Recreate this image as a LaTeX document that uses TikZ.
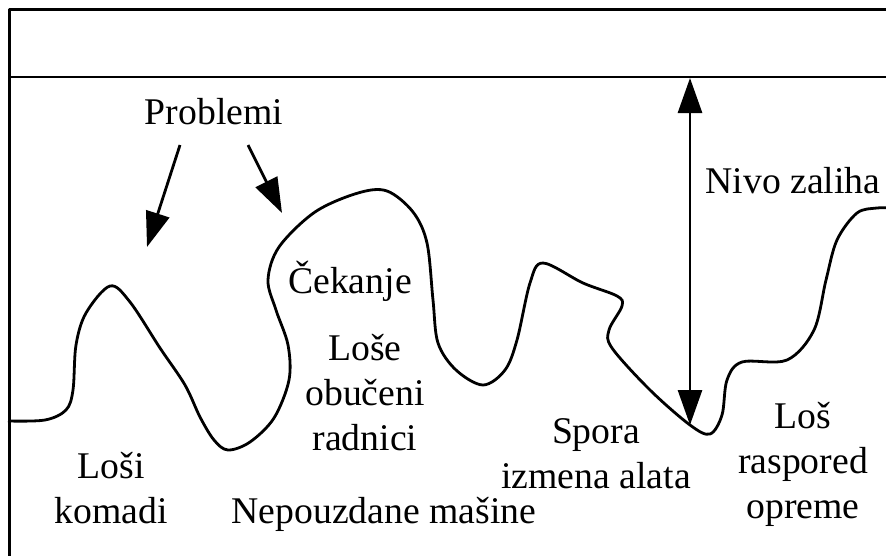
\documentclass[tikz,border=0pt]{standalone}
\usepackage{fontspec}
\setmainfont{Liberation Serif}
\usetikzlibrary{arrows.meta}
\tikzset{
  lbl/.style={font=\fontsize{37.7}{45}\selectfont, align=center, anchor=base, inner sep=0pt},
  thick line/.style={line width=2.8pt, line join=round},
  big arrow/.style={line width=2.8pt, -{Triangle[length=35pt,width=24pt]}},
  both arrow/.style={line width=2.8pt, {Triangle[length=35pt,width=24pt]}-{Triangle[length=35pt,width=24pt]}}
}
\begin{document}
\begin{tikzpicture}[x=1pt,y=-1pt]
\useasboundingbox (0,0) rectangle (886,555);
\begin{scope}
\clip (0,0) rectangle (886,555);
% frame
\draw[thick line] (9.5,9.5) rectangle (900,580);
\draw[thick line] (9.5,77) -- (900,77);
% stock level wave
\draw[thick line] plot[smooth, tension=0.55] coordinates {
 (8,421) (45,420) (66,410) (73,390) (76,345) (86,313) (110,286) (130,302)
 (160,348) (185,385) (200,417) (214,440) (228,450) (250,442) (274,418)
 (289,380) (288,345) (276,310) (268,280) (279,247) (315,212) (358,193)
 (387,191) (413,212) (427,243) (433,300) (438,343) (456,370) (483,385)
 (505,370) (517,340) (530,283) (543,263) (583,283) (617,296) (622,306)
 (609,330) (612,348) (650,390) (690,425) (710,434) (722,415) (727,380)
 (742,362) (787,360) (814,330) (826,280) (837,240) (857,213) (877,208) (890,208)};
\end{scope}
% labels (anchor = baseline of last line)
\node[lbl] (prob) at (214,124) {Problemi};
\node[lbl] (nivo) at (793,193) {Nivo zaliha};
\node[lbl] (ceka) at (350,293) {Čekanje};
\node[lbl] (lose) at (365,450) {Loše\\obučeni\\radnici};
\node[lbl] (losi) at (111,523) {Loši\\komadi};
\node[lbl] (nepo) at (384,523) {Nepouzdane mašine};
\node[lbl] (spor) at (596,488) {Spora\\izmena alata};
\node[lbl] (losr) at (803,518) {Loš\\raspored\\opreme};
% arrows
\coordinate (a1s) at (180,145);
\coordinate (a1e) at (147,247);
\coordinate (a2s) at (248,145);
\coordinate (a2e) at (282,213);
\coordinate (ltop) at (690,78);
\coordinate (lbot) at (690,425);
\draw[big arrow] (a1s) -- (a1e);
\draw[big arrow] (a2s) -- (a2e);
\draw[both arrow] (lbot) -- (ltop);
\end{tikzpicture}
\end{document}
